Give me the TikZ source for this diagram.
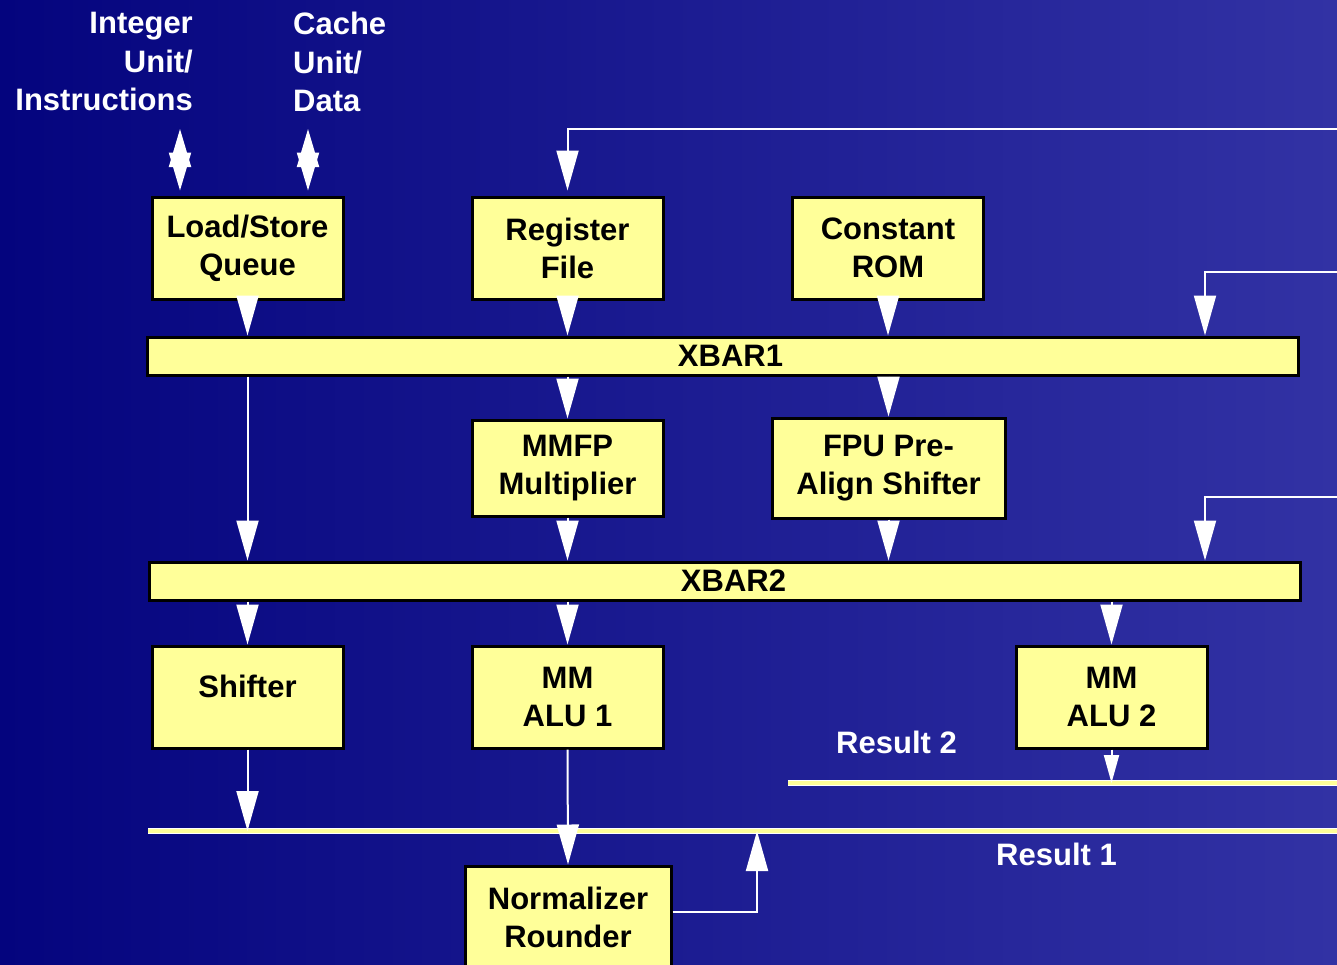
\documentclass[tikz,border=0pt]{standalone}
\usepackage{fontspec}
\setmainfont{Liberation Sans}
\usetikzlibrary{arrows.meta}

\definecolor{bgleft}{RGB}{4,4,126}
\definecolor{bgright}{RGB}{50,50,164}
\definecolor{unitfill}{RGB}{255,255,153}

\begin{document}
\begin{tikzpicture}[x=1pt, y=-1pt,
    unit/.style={draw=black, line width=3pt, fill=unitfill, minimum width=191pt,
      minimum height=102pt, inner sep=0pt, align=center,
      font=\bfseries\fontsize{31}{38}\selectfont},
    xbar/.style={unit, minimum width=1151pt, minimum height=38pt},
    lbl/.style={text=white, inner sep=0pt, font=\bfseries\fontsize{31}{38.5}\selectfont},
    flow/.style={white, line width=2pt, -{Triangle[length=40pt, width=22pt]}},
    smallflow/.style={white, line width=2pt, -{Triangle[length=28pt, width=15pt]}},
    dbl/.style={white, line width=2pt,
      {Triangle[length=38pt, width=22pt]}-{Triangle[length=38pt, width=22pt]}},
    bus/.style={draw=white, line width=1.5pt, double=unitfill, double distance=3.5pt}]

    % Background
    \useasboundingbox (0,0) rectangle (1337,964);
    \shade[left color=bgleft, right color=bgright] (0,0) rectangle (1337,964);

    % Result buses
    \coordinate (res1w) at (148,831);
    \coordinate (res1e) at (1345,831);
    \coordinate (res2w) at (788,783);
    \coordinate (res2e) at (1345,783);
    \draw[bus] (res1w) -- (res1e);
    \draw[bus] (res2w) -- (res2e);

    % Outside connections
    \node[lbl, anchor=north east, align=right] (intlbl) at (193,12) {Integer\\Unit/\\Instructions};
    \node[lbl, anchor=north west, align=left] (cachelbl) at (293,12) {Cache\\Unit/\\Data};
    \coordinate (intio) at (180,129);
    \coordinate (cacheio) at (308,129);
    \coordinate (fbreg) at (1345,129);
    \coordinate (fbx1) at (1345,272);
    \coordinate (fbx2) at (1345,497);
    \coordinate (fbcol) at (1205,0);
    \coordinate (normout) at (757,912);

    % Top row
    \node[unit] (lsq) at (247.5,248) {Load/Store\\Queue};
    \node[unit] (regf) at (567.5,248) {Register\\File};
    \node[unit] (crom) at (888,248) {Constant\\ROM};

    % Crossbars
    \node[xbar] (xbar1) at (722.5,356) {\hspace*{16pt}XBAR1};
    \node[xbar] (xbar2) at (724.5,581) {\hspace*{18pt}XBAR2};

    % Middle row
    \node[unit, minimum height=96pt] (mmfp) at (567.5,468) {MMFP\\Multiplier};
    \node[unit, minimum width=233pt, minimum height=100pt] (fpu) at (888.5,468) {FPU Pre-\\Align Shifter};

    % Bottom row
    \node[unit] (shft) at (247.5,697) {};
    \node[lbl, text=black] (shftlbl) at ([yshift=11pt]shft.center) {Shifter};
    \node[unit] (alu1) at (567.5,697) {MM\\ALU 1};
    \node[unit] (alu2) at (1111.5,697) {MM\\ALU 2};
    \node[unit, minimum width=206pt] (norm) at (568,917) {Normalizer\\Rounder};

    \node[lbl, anchor=base west] (res2lbl) at (836,753) {Result 2};
    \node[lbl, anchor=base west] (res1lbl) at (996,865) {Result 1};

    % Into the top row
    \draw[dbl] (intio) -- (intio |- lsq.north) [shorten >=5pt];
    \draw[dbl] (cacheio) -- (cacheio |- lsq.north) [shorten >=5pt];
    \draw[flow, shorten >=5pt] (fbreg) -| (regf.north);

    % XBAR1
    \draw[flow] (lsq.south) -- (lsq.south |- xbar1.north);
    \draw[flow] (regf.south) -- (regf.south |- xbar1.north);
    \draw[flow] (crom.south) -- (crom.south |- xbar1.north);
    \draw[flow] (fbx1) -| (fbcol |- xbar1.north);
    \draw[flow] (mmfp.north |- xbar1.south) -- (mmfp.north);
    \draw[flow] (fpu.north |- xbar1.south) -- (fpu.north);

    % XBAR2
    \draw[flow] (lsq.south |- xbar1.south) -- (lsq.south |- xbar2.north);
    \draw[flow] (mmfp.south) -- (mmfp.south |- xbar2.north);
    \draw[flow] (fpu.south) -- (fpu.south |- xbar2.north);
    \draw[flow] (fbx2) -| (fbcol |- xbar2.north);
    \draw[flow] (shft.north |- xbar2.south) -- (shft.north);
    \draw[flow] (alu1.north |- xbar2.south) -- (alu1.north);
    \draw[flow] (alu2.north |- xbar2.south) -- (alu2.north);

    % Results
    \draw[flow] (shft.south) -- (shft.south |- res1w);
    \draw[flow] (alu1.south) -- (norm.north);
    \draw[smallflow] (alu2.south) -- (alu2.south |- res2w);
    \draw[flow] (norm.east |- normout) -| (normout |- res1w);
\end{tikzpicture}
\end{document}
